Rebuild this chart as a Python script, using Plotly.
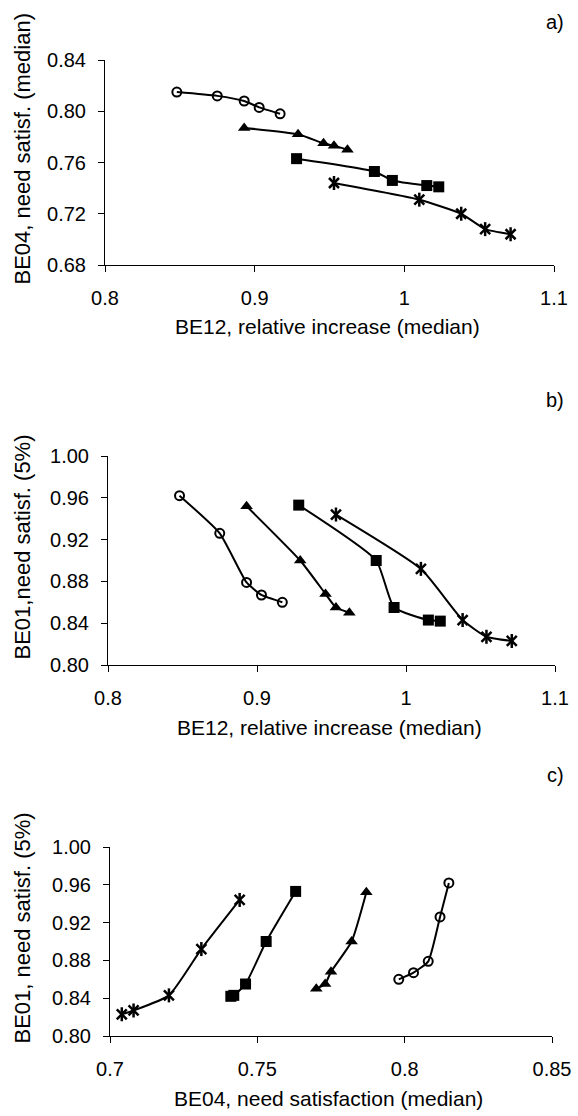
import plotly.graph_objects as go

# ---- data ----
series_names = ["circles", "triangles", "squares", "stars"]

be12_circles = [0.848, 0.875, 0.893, 0.903, 0.917]
be04_circles = [0.815, 0.812, 0.808, 0.803, 0.798]
be01_circles = [0.962, 0.926, 0.879, 0.867, 0.860]

be12_triangles = [0.893, 0.929, 0.946, 0.953, 0.962]
be04_triangles = [0.787, 0.782, 0.775, 0.773, 0.770]
be01_triangles = [0.952, 0.900, 0.868, 0.855, 0.850]

be12_squares = [0.928, 0.980, 0.992, 1.015, 1.023]
be04_squares = [0.763, 0.753, 0.746, 0.742, 0.741]
be01_squares = [0.953, 0.900, 0.855, 0.843, 0.842]

be12_stars = [0.953, 1.010, 1.038, 1.054, 1.071]
be04_stars = [0.744, 0.731, 0.720, 0.708, 0.704]
be01_stars = [0.944, 0.892, 0.843, 0.827, 0.823]

panel_labels = ["a)", "b)", "c)"]
x_titles = ["BE12, relative increase (median)", "BE12, relative increase (median)",
            "BE04, need satisfaction (median)"]
y_titles = ["BE04, need satisf. (median)", "BE01,need satisf. (5%)", "BE01, need satisf. (5%)"]

W, H = 578, 1116
FONT = "Liberation Sans, Arial, sans-serif"

def px(x):
    return x / W

def py(y):
    return 1 - y / H

series = {
    "circles": (be12_circles, be04_circles, be01_circles),
    "triangles": (be12_triangles, be04_triangles, be01_triangles),
    "squares": (be12_squares, be04_squares, be01_squares),
    "stars": (be12_stars, be04_stars, be01_stars),
}

marker_styles = {
    "circles": [dict(symbol="circle-open", size=9, color="black", line=dict(width=2, color="black"))],
    "triangles": [dict(symbol="triangle-up", size=11, color="black", line=dict(width=0))],
    "squares": [dict(symbol="square", size=11, color="black", line=dict(width=0))],
    "stars": [dict(symbol="x-thin-open", size=10, color="black", line=dict(width=2.5, color="black")),
              dict(symbol="line-ns-open", size=10, color="black", line=dict(width=2.5, color="black"))],
}

panels = [(0, 1), (0, 2), (1, 2)]
axis_ids = [("x", "y"), ("x2", "y2"), ("x3", "y3")]

fig = go.Figure()
for (xi, yi), (xa, ya) in zip(panels, axis_ids):
    for name in series_names:
        d = series[name]
        fig.add_trace(go.Scatter(
            x=d[xi], y=d[yi], mode="lines", xaxis=xa, yaxis=ya,
            line=dict(color="black", width=2, shape="spline", smoothing=0.5),
            showlegend=False, hoverinfo="skip"))
        for m in marker_styles[name]:
            fig.add_trace(go.Scatter(
                x=d[xi], y=d[yi], mode="markers", xaxis=xa, yaxis=ya,
                marker=m, showlegend=False))

axis_common = dict(showline=True, linecolor="black", linewidth=1, ticks="outside",
                   ticklen=6, tickcolor="black", tickwidth=1, showgrid=False,
                   zeroline=False, automargin=False,
                   tickfont=dict(family=FONT, size=20, color="black"))

geo = [(105, 554, 60, 265), (108, 555, 456, 665), (110, 552, 847, 1036)]
x_ranges = [[0.8, 1.1], [0.8, 1.1], [0.7, 0.85]]
x_dticks = [0.1, 0.1, 0.05]
y_ranges = [[0.68, 0.84], [0.80, 1.00], [0.80, 1.00]]

layout = dict(width=W, height=H, margin=dict(l=0, r=0, t=0, b=0),
              paper_bgcolor="white", plot_bgcolor="white", showlegend=False)
for i, (l, r, t, b) in enumerate(geo):
    sx = "" if i == 0 else str(i + 1)
    layout["xaxis" + sx] = dict(axis_common, domain=[px(l), px(r)], range=x_ranges[i],
                                dtick=x_dticks[i], tick0=x_ranges[i][0],
                                ticklabelstandoff=9, anchor="y" + sx)
    layout["yaxis" + sx] = dict(axis_common, domain=[py(b), py(t)], range=y_ranges[i],
                                dtick=0.04, tick0=y_ranges[i][0], tickformat=".2f",
                                ticklabelstandoff=8, anchor="x" + sx)
fig.update_layout(**layout)

annotations = []
label_y = [22, 400, 775]
for i, (l, r, t, b) in enumerate(geo):
    annotations.append(dict(text=panel_labels[i], x=px(555), y=py(label_y[i]), xref="paper",
                            yref="paper", showarrow=False, xanchor="center", yanchor="middle",
                            font=dict(family=FONT, size=20, color="black")))
    annotations.append(dict(text=x_titles[i], x=px((l + r) / 2 - 2), y=py(b + 62), xref="paper",
                            yref="paper", showarrow=False, xanchor="center", yanchor="middle",
                            font=dict(family=FONT, size=21, color="black")))
    annotations.append(dict(text=y_titles[i], x=px(22), y=py((t + b) / 2 - 13), xref="paper",
                            yref="paper", showarrow=False, xanchor="center", yanchor="middle",
                            textangle=-90, font=dict(family=FONT, size=22, color="black")))
fig.update_layout(annotations=annotations)

fig.write_html("out.html", post_script="document.body.style.margin='0';",
               config={"displayModeBar": False})
